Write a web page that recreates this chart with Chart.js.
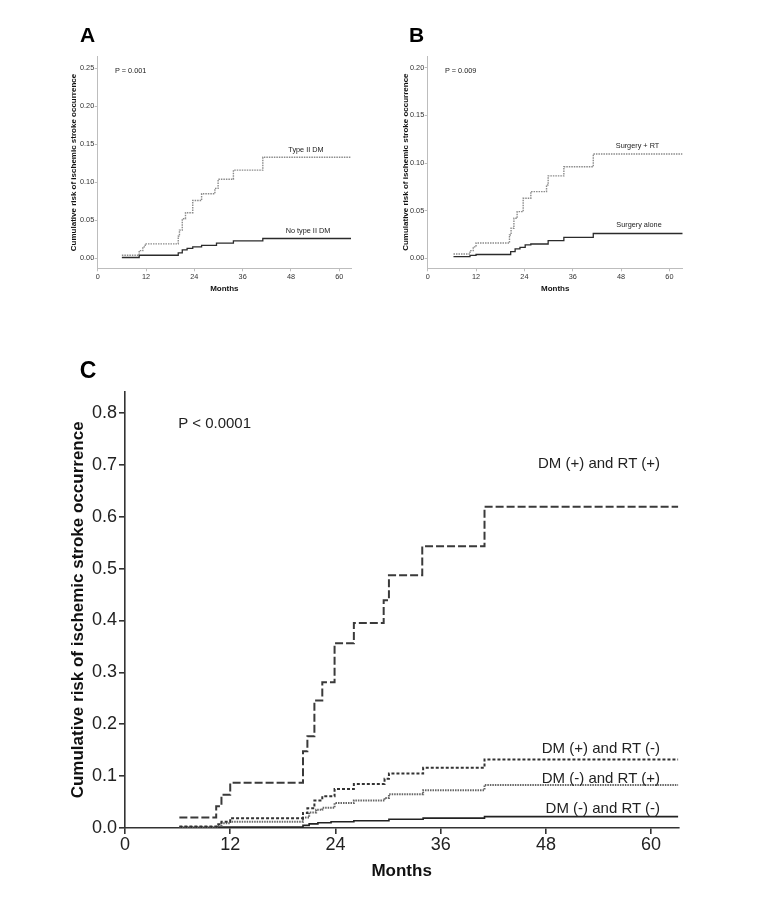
<!DOCTYPE html>
<html>
<head>
<meta charset="utf-8">
<script src="https://cdn.jsdelivr.net/npm/chart.js@4.4.1/dist/chart.umd.min.js"></script>
<style>
  body { margin: 0; background: #fff; }
  #page { position: relative; width: 769px; height: 922px; overflow: hidden; font-family: Arial, "Liberation Sans", sans-serif; }
  canvas { position: absolute; }
  .lbl { position: absolute; white-space: nowrap; color: #222; line-height: 1; transform: translateY(-50%); }
  .mid { transform: translate(-50%, -50%); }
  .panel { position: absolute; font-weight: bold; color: #000; line-height: 1; transform: translate(-50%, -50%); }
</style>
</head>
<body>
<div id="page">
  <canvas id="chartA" width="330" height="280" style="left:40px;top:40px"></canvas>
  <canvas id="chartB" width="330" height="280" style="left:380px;top:40px"></canvas>
  <canvas id="chartC" width="680" height="530" style="left:40px;top:370px"></canvas>

  <div class="panel" style="left:87.5px;top:34px;font-size:21px">A</div>
  <div class="panel" style="left:416.5px;top:34px;font-size:21px">B</div>
  <div class="panel" style="left:88px;top:370px;font-size:23px">C</div>

  <div class="lbl" style="left:115px;top:70.7px;font-size:7.3px">P = 0.001</div>
  <div class="lbl mid" style="left:306px;top:150px;font-size:7.3px">Type II DM</div>
  <div class="lbl mid" style="left:308px;top:231px;font-size:7.3px">No type II DM</div>

  <div class="lbl" style="left:445px;top:70.7px;font-size:7.3px">P = 0.009</div>
  <div class="lbl mid" style="left:637.5px;top:146px;font-size:7.3px">Surgery + RT</div>
  <div class="lbl mid" style="left:639px;top:225px;font-size:7.3px">Surgery alone</div>

  <div class="lbl" style="left:178.3px;top:421.7px;font-size:15px">P &lt; 0.0001</div>
  <div class="lbl" style="right:109px;top:462px;font-size:15px">DM (+) and RT (+)</div>
  <div class="lbl" style="right:109px;top:747px;font-size:15px">DM (+) and RT (-)</div>
  <div class="lbl" style="right:109px;top:776.7px;font-size:15px">DM (-) and RT (+)</div>
  <div class="lbl" style="right:109px;top:806.7px;font-size:15px">DM (-) and RT (-)</div>
</div>
<script>
// Panel A: type II DM vs no type II DM
const monthsA_dm = [6, 10.3, 11.2, 11.8, 20, 20.3, 21, 21.8, 23.6, 25.8, 29.1, 29.9, 33.7, 41, 62.9];
const riskA_dm = [0.004, 0.010, 0.015, 0.019, 0.029, 0.037, 0.052, 0.060, 0.076, 0.085, 0.092, 0.104, 0.116, 0.133, 0.133];
const monthsA_noDm = [6, 10.3, 20, 21, 22.2, 23.6, 25.8, 29.5, 33.7, 41, 62.9];
const riskA_noDm = [0.001, 0.004, 0.007, 0.011, 0.013, 0.015, 0.017, 0.020, 0.023, 0.026, 0.026];

// Panel B: surgery + RT vs surgery alone
const monthsB_rt = [6.4, 10.5, 11.3, 12, 20.3, 20.7, 21.4, 22.2, 23.7, 25.6, 29.5, 29.9, 33.8, 41.1, 63.3];
const riskB_rt = [0.0045, 0.008, 0.012, 0.016, 0.0245, 0.0315, 0.042, 0.049, 0.063, 0.070, 0.077, 0.0865, 0.096, 0.1095, 0.1095];
const monthsB_alone = [6.4, 10.5, 12, 20.6, 21.7, 22.9, 24.2, 25.6, 29.9, 33.8, 41.1, 63.3];
const riskB_alone = [0.0017, 0.003, 0.004, 0.007, 0.0098, 0.0115, 0.014, 0.015, 0.0185, 0.022, 0.026, 0.026];

// Panel C: four groups
const monthsC_dmRt = [6.2, 10.4, 11.0, 12.0, 20.3, 20.8, 21.6, 22.5, 23.9, 26.1, 29.5, 30.1, 33.9, 41.0, 63.1];
const riskC_dmRt = [0.020, 0.042, 0.064, 0.087, 0.148, 0.177, 0.246, 0.281, 0.356, 0.395, 0.439, 0.487, 0.543, 0.619, 0.619];
const monthsC_dmNoRt = [6.2, 10.5, 11.0, 12.0, 20.3, 20.8, 21.6, 22.5, 23.9, 26.1, 29.6, 30.1, 34.0, 41.0, 63.1];
const riskC_dmNoRt = [0.003, 0.007, 0.012, 0.019, 0.029, 0.038, 0.053, 0.061, 0.075, 0.085, 0.095, 0.105, 0.116, 0.132, 0.132];
const monthsC_noDmRt = [6.2, 10.5, 11.0, 12.0, 20.3, 21.0, 21.8, 22.5, 23.9, 26.1, 29.6, 30.1, 34.0, 41.0, 63.1];
const riskC_noDmRt = [0.002, 0.005, 0.009, 0.012, 0.020, 0.030, 0.035, 0.039, 0.048, 0.053, 0.058, 0.065, 0.073, 0.083, 0.083];
const monthsC_none = [6.2, 10.5, 20.3, 21.0, 22.0, 23.5, 26.1, 30.1, 34.0, 41.0, 63.1];
const riskC_none = [0.001, 0.002, 0.005, 0.008, 0.010, 0.012, 0.014, 0.017, 0.019, 0.022, 0.022];

const monthTicks = [0, 12, 24, 36, 48, 60];
const yTicksA = [0, 0.05, 0.10, 0.15, 0.20, 0.25];
const yTicksB = [0, 0.05, 0.10, 0.15, 0.20];
const yTicksC = [0, 0.1, 0.2, 0.3, 0.4, 0.5, 0.6, 0.7, 0.8];

const yTitle = 'Cumulative risk of ischemic stroke occurrence';
const FONT = 'Arial, "Liberation Sans", sans-serif';

function series(months, risk) {
    return months.map((m, i) => ({x: m, y: risk[i]}));
}

function line(months, risk, color, width, dash) {
    return {
        data: series(months, risk),
        borderColor: color,
        borderWidth: width,
        borderDash: dash,
        stepped: 'before',
        pointRadius: 0,
        fill: false
    };
}

function makeChart(id, datasets, s) {
    return new Chart(document.getElementById(id), {
        type: 'line',
        data: {datasets: datasets},
        options: {
            responsive: false,
            animation: false,
            layout: {padding: {left: 0, top: s.padTop, right: s.padRight, bottom: 0}},
            plugins: {legend: {display: false}, tooltip: {enabled: false}},
            scales: {
                x: {
                    type: 'linear',
                    min: 0,
                    max: s.xMax,
                    afterBuildTicks: scale => { scale.ticks = monthTicks.map(v => ({value: v})); },
                    afterFit: scale => { scale.height = s.xHeight; },
                    grid: {drawOnChartArea: false, drawTicks: true, tickLength: s.tickLen, color: s.axisColor, lineWidth: s.axisWidth},
                    border: {color: s.axisColor, width: s.axisWidth},
                    ticks: {
                        autoSkip: false, maxRotation: 0, padding: s.xTickPad, color: s.textColor,
                        font: {family: FONT, size: s.tickSize},
                        callback: v => String(v)
                    },
                    title: {
                        display: true, text: 'Months', color: '#111',
                        font: {family: FONT, size: s.titleSize, weight: 'bold'},
                        padding: {top: 0, bottom: s.xTitlePad}
                    }
                },
                y: {
                    type: 'linear',
                    min: s.yMin,
                    max: s.yMax,
                    afterBuildTicks: scale => { scale.ticks = s.yTicks.map(v => ({value: v})); },
                    afterFit: scale => { scale.width = s.yWidth; },
                    grid: {drawOnChartArea: false, drawTicks: true, tickLength: s.tickLen, color: s.axisColor, lineWidth: s.axisWidth},
                    border: {color: s.axisColor, width: s.axisWidth},
                    ticks: {
                        autoSkip: false, padding: s.yTickPad, color: s.textColor,
                        font: {family: FONT, size: s.tickSize},
                        callback: v => v.toFixed(s.decimals)
                    },
                    title: {
                        display: true, text: yTitle, color: '#111',
                        font: {family: FONT, size: s.titleSize, weight: 'bold'},
                        padding: {top: s.yTitlePad, bottom: 0}
                    }
                }
            }
        }
    });
}

const small = {
    tickLen: 3, axisColor: '#bdbdbd', axisWidth: 1, textColor: '#333',
    tickSize: 7.3, titleSize: 8, xHeight: 51.7, xTickPad: 1, yTickPad: 0.5, xTitlePad: 26.7, decimals: 2
};

makeChart('chartA', [
    line(monthsA_dm, riskA_dm, '#8a8a8a', 1.4, [1.5, 1]),
    line(monthsA_noDm, riskA_noDm, '#2b2b2b', 1.3, [])
], Object.assign({}, small, {
    padTop: 16.7, padRight: 19, xMax: 62.9, yMin: -0.0132, yMax: 0.2653,
    yTicks: yTicksA, yWidth: 57.7, yTitlePad: 29.2
}));

makeChart('chartB', [
    line(monthsB_rt, riskB_rt, '#8a8a8a', 1.4, [1.5, 1]),
    line(monthsB_alone, riskB_alone, '#2b2b2b', 1.3, [])
], Object.assign({}, small, {
    padTop: 16, padRight: 27.3, xMax: 63.3, yMin: -0.0105, yMax: 0.2123,
    yTicks: yTicksB, yWidth: 47.7, yTitlePad: 21.2
}));

makeChart('chartC', [
    line(monthsC_dmRt, riskC_dmRt, '#3a3a3a', 2, [8, 3]),
    line(monthsC_dmNoRt, riskC_dmNoRt, '#333', 2, [3, 2]),
    line(monthsC_noDmRt, riskC_noDmRt, '#666', 2, [1.5, 1]),
    line(monthsC_none, riskC_none, '#222', 1.6, [])
], {
    padTop: 21.7, padRight: 41.7, xMax: 63.1, yMin: 0, yMax: 0.841,
    yTicks: yTicksC, yWidth: 85, yTitlePad: 27.8,
    tickLen: 6, axisColor: '#333', axisWidth: 1.6, textColor: '#222',
    tickSize: 18, titleSize: 17, xHeight: 72, xTickPad: 0, yTickPad: 2, xTitlePad: 18.1, decimals: 1
});
</script>
</body>
</html>
